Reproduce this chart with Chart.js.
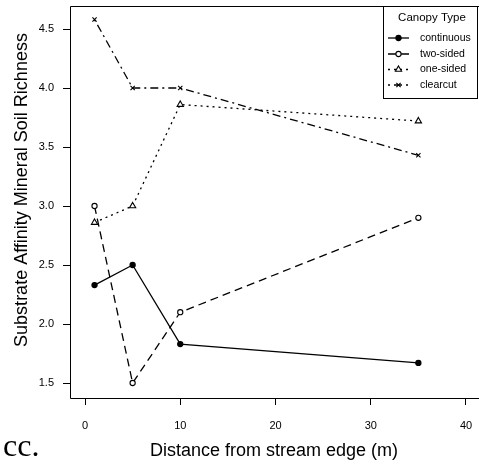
<!DOCTYPE html>
<html>
<head>
<meta charset="utf-8">
<script src="https://cdn.jsdelivr.net/npm/chart.js@4.4.1/dist/chart.umd.min.js"></script>
<style>
html, body { margin: 0; padding: 0; background: #fff; }
#wrap { width: 479px; height: 470px; }
</style>
</head>
<body>
<div id="wrap"><canvas id="soilChart" width="479" height="470"></canvas></div>
<script>
// values
const distances = [1, 5, 10, 35];
const continuous = [2.33, 2.50, 1.83, 1.67];
const twoSided = [3.00, 1.50, 2.10, 2.90];
const oneSided = [2.86, 3.00, 3.86, 3.72];
const clearcut = [4.58, 4.00, 4.00, 3.43];
const seriesNames = ['continuous', 'two-sided', 'one-sided', 'clearcut'];
const xTicks = [0, 10, 20, 30, 40];
const yTicks = [1.5, 2.0, 2.5, 3.0, 3.5, 4.0, 4.5];

// R-ish line types / symbols
const looks = [
    { dash: [], point: 'circle', radius: 2.6, fill: '#000' },
    { dash: [8, 5], point: 'circle', radius: 2.6, fill: '#fff' },
    { dash: [2, 4], point: 'triangle', radius: 3.6, fill: '#fff' },
    { dash: [2, 4, 8, 4], point: 'crossRot', radius: 3, fill: '#fff' }
];

function toPoints(ys) {
    return distances.map((d, i) => ({ x: d, y: ys[i] }));
}

const allSeries = [continuous, twoSided, oneSided, clearcut];

const datasets = allSeries.map((ys, i) => ({
    label: seriesNames[i],
    data: toPoints(ys),
    borderColor: '#000',
    borderWidth: 1.3,
    borderDash: looks[i].dash,
    pointStyle: looks[i].point,
    pointRadius: looks[i].radius,
    pointBackgroundColor: looks[i].fill,
    pointBorderColor: '#000',
    pointBorderWidth: 1.1,
    tension: 0,
    fill: false
}));

const extras = {
    id: 'extras',
    afterDraw(chart) {
        const ctx = chart.ctx;
        const a = chart.chartArea;
        ctx.save();
        ctx.strokeStyle = '#000';
        ctx.fillStyle = '#000';
        ctx.lineWidth = 1;
        ctx.setLineDash([]);
        // plot frame (right side runs off the picture)
        const l = Math.round(a.left) + 0.5, t = Math.round(a.top) + 0.5, b = Math.round(a.bottom) + 0.5;
        ctx.beginPath();
        ctx.moveTo(chart.width, t);
        ctx.lineTo(l, t);
        ctx.lineTo(l, b);
        ctx.lineTo(chart.width, b);
        ctx.stroke();

        // axis titles
        ctx.font = '18px "Liberation Sans", Arial, sans-serif';
        ctx.textAlign = 'center';
        ctx.textBaseline = 'alphabetic';
        ctx.fillText('Distance from stream edge (m)', (a.left + a.right) / 2, 456);
        ctx.save();
        ctx.translate(27, 190);
        ctx.rotate(-Math.PI / 2);
        ctx.fillText('Substrate Affinity Mineral Soil Richness', 0, 0);
        ctx.restore();

        // "cc." label
        ctx.font = '32px "Liberation Serif", "Times New Roman", serif';
        ctx.textAlign = 'left';
        ctx.fillText('cc.', 3, 456);

        // legend
        const lx = 383, ly = 6, lw = 95, lh = 92;
        ctx.fillStyle = '#fff';
        ctx.fillRect(lx, ly, lw, lh);
        ctx.strokeStyle = '#000';
        ctx.strokeRect(lx + 0.5, ly + 0.5, lw - 1, lh);
        ctx.fillStyle = '#000';
        ctx.font = '11.5px "Liberation Sans", Arial, sans-serif';
        ctx.textAlign = 'center';
        ctx.textBaseline = 'middle';
        ctx.fillText('Canopy Type', 432, 18);
        ctx.font = '10.5px "Liberation Sans", Arial, sans-serif';
        ctx.textAlign = 'left';
        const rowY = [38, 54, 69.5, 85];
        seriesNames.forEach((name, i) => {
            const y = rowY[i];
            ctx.lineWidth = 1.3;
            ctx.setLineDash(looks[i].dash);
            ctx.beginPath();
            ctx.moveTo(388, y);
            ctx.lineTo(409, y);
            ctx.stroke();
            ctx.setLineDash([]);
            ctx.lineWidth = 1.1;
            ctx.fillStyle = looks[i].fill;
            Chart.helpers.drawPoint(ctx, {
                pointStyle: looks[i].point,
                radius: looks[i].radius,
                borderWidth: 1.1,
                rotation: 0
            }, 398.5, y);
            ctx.fillStyle = '#000';
            ctx.fillText(name, 420, y);
        });
        ctx.restore();
    }
};

new Chart(document.getElementById('soilChart'), {
    type: 'line',
    data: { datasets: datasets },
    options: {
        responsive: false,
        devicePixelRatio: 1,
        animation: false,
        layout: { autoPadding: false, padding: { top: 6, right: 1, left: 0, bottom: 0 } },
        plugins: {
            legend: { display: false },
            tooltip: { enabled: false }
        },
        scales: {
            x: {
                type: 'linear',
                min: -1.575,
                max: 41.26,
                afterBuildTicks: s => { s.ticks = xTicks.map(v => ({ value: v })); },
                afterFit: s => {
                    s.height = 72;
                    s.paddingLeft = 0;
                    s.paddingRight = 0;
                },
                grid: { drawOnChartArea: false, tickLength: 7, color: '#000', tickWidth: 1 },
                border: { display: false },
                ticks: {
                    color: '#000',
                    padding: 14,
                    maxRotation: 0,
                    font: { family: '"Liberation Sans", Arial, sans-serif', size: 11 }
                }
            },
            y: {
                type: 'linear',
                min: 1.373,
                max: 4.695,
                afterBuildTicks: s => { s.ticks = yTicks.map(v => ({ value: v })); },
                afterFit: s => {
                    s.width = 70;
                    s.paddingTop = 0;
                    s.paddingBottom = 0;
                },
                grid: { drawOnChartArea: false, tickLength: 7, color: '#000', tickWidth: 1 },
                border: { display: false },
                ticks: {
                    color: '#000',
                    padding: 9,
                    callback: v => v.toFixed(1),
                    font: { family: '"Liberation Sans", Arial, sans-serif', size: 11 }
                }
            }
        }
    },
    plugins: [extras]
});
</script>
</body>
</html>
